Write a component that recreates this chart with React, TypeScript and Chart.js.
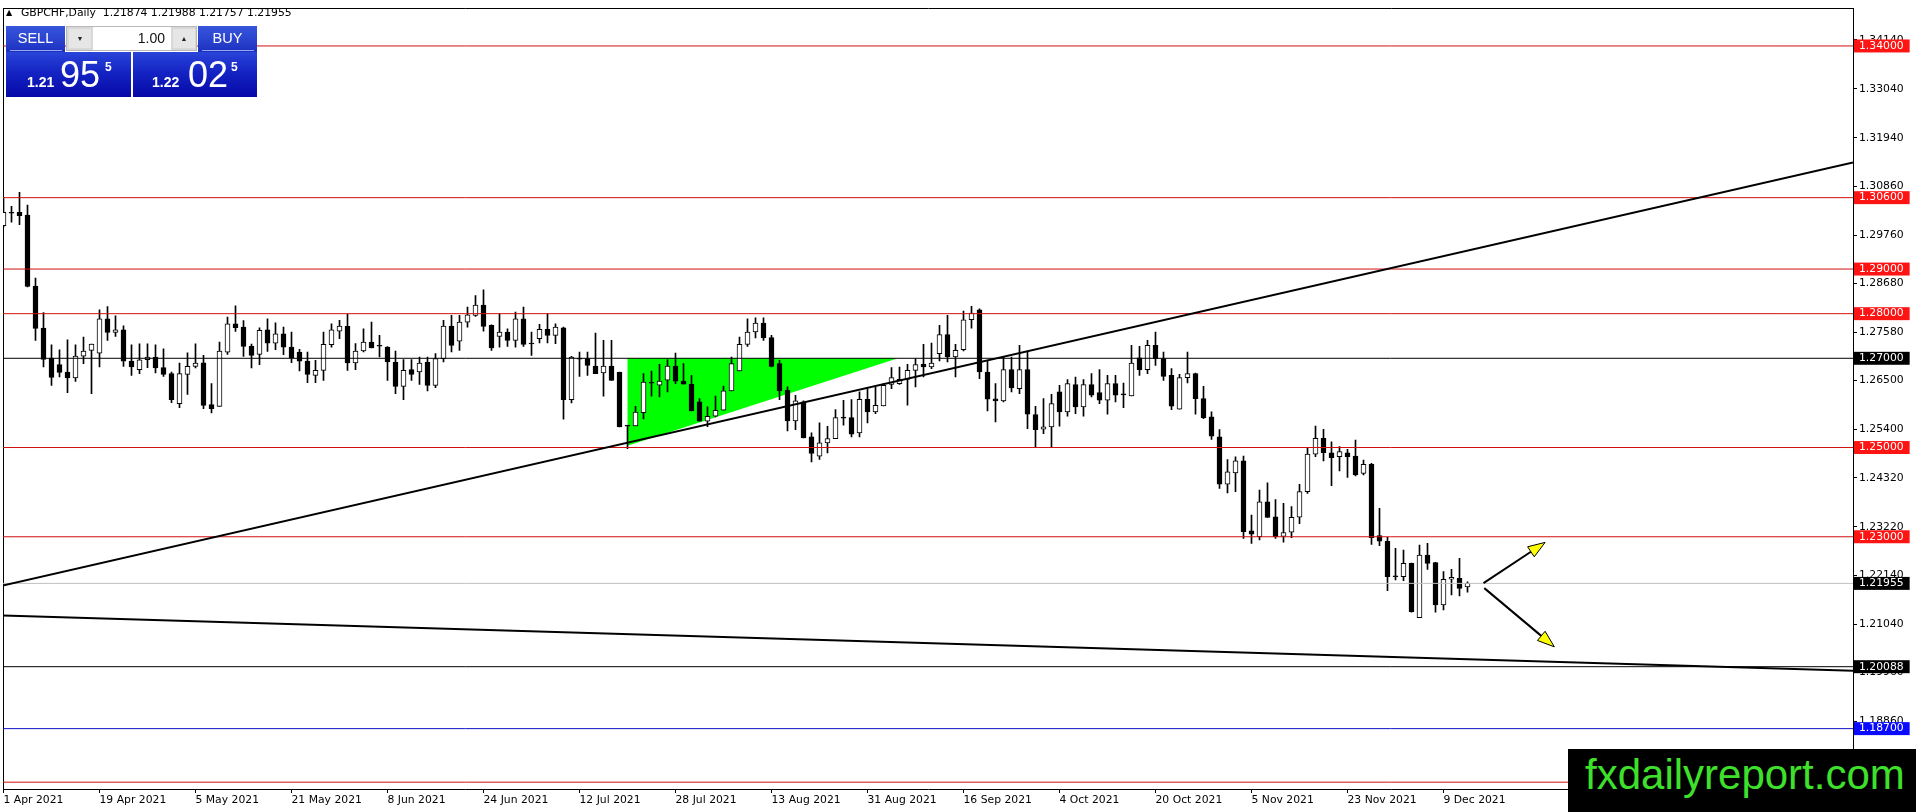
import React, { useEffect, useRef } from "react";
import { Chart, registerables } from "chart.js";

Chart.register(...registerables);

// ---------------- data ----------------
const openP = [
  1.29974, 1.30257, 1.30272, 1.30212, 1.28617, 1.27676, 1.27006, 1.26857, 1.26693, 1.26558,
  1.2705, 1.27177, 1.27117, 1.27885, 1.27579, 1.27639, 1.26938, 1.26744, 1.26968, 1.27028,
  1.2679, 1.26655, 1.25984, 1.2664, 1.26819, 1.26901, 1.25961, 1.25924, 1.2714, 1.27774,
  1.27699, 1.27274, 1.27088, 1.27639, 1.27341, 1.2755, 1.27251, 1.2714, 1.26938, 1.26618,
  1.2673, 1.27304, 1.27608, 1.27715, 1.26894, 1.27163, 1.27364, 1.27275, 1.27252, 1.26916,
  1.26372, 1.26745, 1.26693, 1.26916, 1.26394, 1.26991, 1.27722, 1.27386, 1.27811, 1.2796,
  1.28191, 1.27737, 1.27491, 1.27588, 1.27402, 1.27886, 1.27327, 1.27439, 1.27647, 1.27513,
  1.27685, 1.26074, 1.26991, 1.26991, 1.26827, 1.2667, 1.26827, 1.26685, 1.25484, 1.25484,
  1.25782, 1.26447, 1.26395, 1.26507, 1.26827, 1.26492, 1.26418, 1.26022, 1.2559, 1.25701,
  1.25835, 1.26268, 1.26716, 1.27313, 1.27589, 1.2779, 1.27462, 1.2688, 1.26283, 1.25597,
  1.26022, 1.25239, 1.24806, 1.25105, 1.25201, 1.25664, 1.25671, 1.25328, 1.26081, 1.25798,
  1.25932, 1.26417, 1.26432, 1.26529, 1.2673, 1.26865, 1.26805, 1.27103, 1.2753, 1.27029,
  1.27193, 1.27864, 1.28087, 1.26693, 1.26089, 1.26044, 1.26745, 1.2632, 1.26745, 1.25738,
  1.2541, 1.25462, 1.26246, 1.25798, 1.2641, 1.2591, 1.2641, 1.26231, 1.26059, 1.26432,
  1.26186, 1.26156, 1.27013, 1.26745, 1.2729, 1.26991, 1.26618, 1.25858, 1.26566, 1.26655,
  1.26097, 1.25686, 1.25239, 1.2418, 1.24433, 1.24702, 1.23135, 1.23001, 1.23784, 1.23449,
  1.2301, 1.23101, 1.23437, 1.24011, 1.24854, 1.25205, 1.24884, 1.24795, 1.24884, 1.2481,
  1.24422, 1.24623, 1.23027, 1.229, 1.22106, 1.22106, 1.22404, 1.21189, 1.22591, 1.22419,
  1.21473, 1.22047, 1.22069, 1.21874,
];
const highP = [
  1.30608, 1.30406, 1.3072, 1.30436, 1.28796, 1.28023, 1.27304, 1.27191, 1.27416, 1.27304,
  1.27476, 1.27319, 1.28086, 1.28161, 1.27952, 1.27728, 1.27304, 1.27326, 1.27326, 1.27304,
  1.27214, 1.26692, 1.26894, 1.27125, 1.27326, 1.27065, 1.26431, 1.27364, 1.27923, 1.28177,
  1.27848, 1.2732, 1.27684, 1.27885, 1.27796, 1.27699, 1.27587, 1.27199, 1.2714, 1.26953,
  1.27587, 1.27774, 1.27849, 1.27983, 1.27327, 1.27662, 1.27811, 1.27513, 1.2726, 1.27163,
  1.26969, 1.26969, 1.27029, 1.27029, 1.27103, 1.27849, 1.27961, 1.27961, 1.28147, 1.28407,
  1.28534, 1.2775, 1.27998, 1.27662, 1.28035, 1.28147, 1.27588, 1.27759, 1.27998, 1.27774,
  1.277, 1.27044, 1.27141, 1.27141, 1.27565, 1.27401, 1.27401, 1.2669, 1.2549, 1.25924,
  1.26655, 1.26716, 1.26865, 1.26969, 1.27118, 1.2688, 1.26619, 1.26097, 1.2591, 1.26151,
  1.2638, 1.27029, 1.27477, 1.27887, 1.27909, 1.27909, 1.27515, 1.26954, 1.26358, 1.26171,
  1.26044, 1.25328, 1.25552, 1.25477, 1.2585, 1.26059, 1.26074, 1.26246, 1.2632, 1.26358,
  1.26432, 1.2679, 1.26805, 1.26865, 1.26991, 1.27313, 1.27343, 1.27737, 1.27961, 1.27313,
  1.2806, 1.28162, 1.2811, 1.26954, 1.26432, 1.27029, 1.27029, 1.2729, 1.27163, 1.25925,
  1.26096, 1.26193, 1.26395, 1.26521, 1.26581, 1.26521, 1.26656, 1.26745, 1.26618, 1.26618,
  1.26447, 1.2729, 1.27268, 1.27402, 1.27589, 1.27141, 1.26767, 1.2664, 1.27141, 1.2667,
  1.26372, 1.25798, 1.25403, 1.24732, 1.24791, 1.24806, 1.23486, 1.24045, 1.24209, 1.23836,
  1.2375, 1.23676, 1.24175, 1.24996, 1.25481, 1.25406, 1.2513, 1.25019, 1.24959, 1.25168,
  1.2472, 1.24646, 1.23639, 1.22986, 1.2274, 1.22703, 1.2241, 1.22815, 1.22852, 1.22425,
  1.22218, 1.2227, 1.22516, 1.21988,
];
const lowP = [
  1.29936, 1.30048, 1.29996, 1.286, 1.274, 1.26805, 1.26394, 1.26581, 1.2623, 1.26484,
  1.26879, 1.26207, 1.26805, 1.274, 1.2749, 1.26819, 1.26618, 1.26655, 1.2679, 1.2667,
  1.26596, 1.26007, 1.25895, 1.26193, 1.26782, 1.25871, 1.25775, 1.25924, 1.27088, 1.27602,
  1.27042, 1.26782, 1.26856, 1.27155, 1.27192, 1.2708, 1.26901, 1.26715, 1.26454, 1.26454,
  1.26506, 1.27252, 1.27438, 1.2673, 1.26745, 1.27141, 1.2723, 1.27029, 1.26506, 1.26208,
  1.26074, 1.26506, 1.26417, 1.26268, 1.26342, 1.26916, 1.27141, 1.27178, 1.277, 1.27939,
  1.2761, 1.27178, 1.27252, 1.27267, 1.27252, 1.27267, 1.27066, 1.27342, 1.27342, 1.27327,
  1.25634, 1.26, 1.26596, 1.26618, 1.26655, 1.26149, 1.26506, 1.25462, 1.24977, 1.25484,
  1.2564, 1.26151, 1.26133, 1.26246, 1.26432, 1.26418, 1.2582, 1.2559, 1.25465, 1.25686,
  1.25835, 1.26268, 1.26716, 1.27268, 1.27455, 1.27403, 1.26805, 1.26074, 1.25373, 1.25403,
  1.25216, 1.24679, 1.24731, 1.24881, 1.25201, 1.255, 1.25239, 1.25239, 1.25552, 1.25761,
  1.25932, 1.2632, 1.26417, 1.25947, 1.26358, 1.26581, 1.26768, 1.26939, 1.26917, 1.26581,
  1.27163, 1.27677, 1.26544, 1.2582, 1.25574, 1.26022, 1.26246, 1.26208, 1.25425, 1.25,
  1.25313, 1.25, 1.25477, 1.25701, 1.25761, 1.25701, 1.26134, 1.25984, 1.25746, 1.26022,
  1.25895, 1.26156, 1.26618, 1.26656, 1.26842, 1.26506, 1.2585, 1.25858, 1.26447, 1.25746,
  1.25649, 1.25179, 1.24083, 1.23985, 1.24008, 1.22964, 1.22852, 1.22927, 1.23434, 1.22964,
  1.2288, 1.22982, 1.23296, 1.23974, 1.24795, 1.24698, 1.24146, 1.24474, 1.24332, 1.24362,
  1.24385, 1.2283, 1.22803, 1.21793, 1.22031, 1.22016, 1.21308, 1.21189, 1.2227, 1.21308,
  1.2136, 1.21696, 1.21674, 1.21757,
];
const closeP = [
  1.30272, 1.3025, 1.30197, 1.2861, 1.27669, 1.26976, 1.26573, 1.26685, 1.26558, 1.2705,
  1.27162, 1.27319, 1.27885, 1.27579, 1.27639, 1.26938, 1.26805, 1.26968, 1.27028, 1.26782,
  1.2664, 1.26074, 1.26655, 1.26819, 1.26894, 1.25946, 1.25871, 1.27162, 1.27774, 1.27684,
  1.27266, 1.27065, 1.27625, 1.27341, 1.2755, 1.27251, 1.27013, 1.26938, 1.2664, 1.2673,
  1.27311, 1.2764, 1.27722, 1.26894, 1.27163, 1.27364, 1.2723, 1.2727, 1.26916, 1.26372,
  1.2673, 1.2664, 1.26894, 1.26394, 1.26991, 1.27722, 1.2729, 1.27811, 1.27975, 1.28191,
  1.27714, 1.2723, 1.27588, 1.27402, 1.27886, 1.27312, 1.2732, 1.27647, 1.27513, 1.277,
  1.26074, 1.27029, 1.2698, 1.26842, 1.26655, 1.26827, 1.26506, 1.25462, 1.2548, 1.25797,
  1.26469, 1.2644, 1.26492, 1.26827, 1.26485, 1.26418, 1.2582, 1.2559, 1.25701, 1.25835,
  1.26268, 1.2688, 1.27313, 1.27589, 1.2779, 1.27455, 1.2682, 1.26268, 1.25597, 1.26044,
  1.25216, 1.24866, 1.25105, 1.25201, 1.25671, 1.2566, 1.25298, 1.26081, 1.25798, 1.25947,
  1.26395, 1.26566, 1.26529, 1.2673, 1.26857, 1.26805, 1.26894, 1.2753, 1.27029, 1.27178,
  1.27864, 1.28013, 1.26693, 1.26082, 1.26044, 1.26745, 1.26335, 1.26745, 1.25746, 1.25403,
  1.25462, 1.25984, 1.25798, 1.26432, 1.2591, 1.2641, 1.26171, 1.26059, 1.26432, 1.26171,
  1.2618, 1.26894, 1.26745, 1.2729, 1.26991, 1.26596, 1.25925, 1.26566, 1.26655, 1.26097,
  1.25671, 1.25254, 1.2418, 1.24456, 1.24702, 1.23113, 1.2306, 1.23784, 1.23434, 1.23001,
  1.23095, 1.23437, 1.24011, 1.24854, 1.25205, 1.24884, 1.24772, 1.24907, 1.24795, 1.24385,
  1.24623, 1.22979, 1.229, 1.22106, 1.221, 1.22404, 1.21323, 1.22591, 1.22404, 1.21473,
  1.22047, 1.22091, 1.21845, 1.21955,
];

// date axis (bar index -> label)
const dateTickIdx = [0, 12, 24, 36, 48, 60, 72, 84, 96, 108, 120, 132, 144, 156, 168, 180];
const dateTickLabels = [
  "1 Apr 2021", "19 Apr 2021", "5 May 2021", "21 May 2021", "8 Jun 2021", "24 Jun 2021",
  "12 Jul 2021", "28 Jul 2021", "13 Aug 2021", "31 Aug 2021", "16 Sep 2021", "4 Oct 2021",
  "20 Oct 2021", "5 Nov 2021", "23 Nov 2021", "9 Dec 2021",
];

// price axis
const priceTicks = [
  1.3414, 1.3304, 1.3194, 1.3086, 1.2976, 1.2868, 1.2758, 1.265, 1.254, 1.2432, 1.2322,
  1.2214, 1.2104, 1.1996, 1.1886,
];
const levelPrices = [1.34, 1.306, 1.29, 1.28, 1.27, 1.25, 1.23, 1.21955, 1.20088, 1.187, 1.175];
const levelKinds = ["red", "red", "red", "red", "black", "red", "red", "bid", "black", "blue", "red"];

// drawn objects (bar index, price)
const risingLineX = [-0.44, 231.19];
const risingLineY = [1.21893, 1.31386];
const fallingLineX = [-0.44, 231.19];
const fallingLineY = [1.21236, 1.19999];
const triangleX = [78, 78, 111.8, 78];
const triangleY = [1.2504, 1.27, 1.27, 1.2504];
const arrowFromX = [185.0, 185.1];
const arrowFromY = [1.2196, 1.21849];
const arrowToX = [192.7, 193.85];
const arrowToY = [1.22874, 1.20534];

const headerValues = ["1.21874", "1.21988", "1.21757", "1.21955"];

// ---------------- styles ----------------
const X_MIN = -0.0625;
const X_MAX = 231.1875;
const Y_MIN = 1.17347;
const Y_MAX = 1.3484;

const lineColor: Record<string, string> = {
  red: "#d01010",
  black: "#000000",
  bid: "#c0c0c0",
  blue: "#1010c8",
};
const boxColor: Record<string, string> = {
  red: "#ff1414",
  black: "#000000",
  bid: "#000000",
  blue: "#0a0aff",
};

const axisFont = { family: "'DejaVu Sans'", size: 10.8 };

const arrowPlugin = {
  id: "arrows",
  afterDatasetsDraw(chart: any) {
    const { ctx, scales } = chart;
    const xs = scales.x;
    const ys = scales.y;
    for (let k = 0; k < arrowFromX.length; k++) {
      const x0 = xs.getPixelForValue(arrowFromX[k]);
      const y0 = ys.getPixelForValue(arrowFromY[k]);
      const x1 = xs.getPixelForValue(arrowToX[k]);
      const y1 = ys.getPixelForValue(arrowToY[k]);
      const len = Math.hypot(x1 - x0, y1 - y0);
      const ux = (x1 - x0) / len;
      const uy = (y1 - y0) / len;
      const headLen = 17;
      const headW = 6;
      const bx = x1 - ux * headLen;
      const by = y1 - uy * headLen;
      ctx.save();
      ctx.strokeStyle = "#000";
      ctx.lineWidth = 2;
      ctx.beginPath();
      ctx.moveTo(x0, y0);
      ctx.lineTo(bx, by);
      ctx.stroke();
      ctx.beginPath();
      ctx.moveTo(x1, y1);
      ctx.lineTo(bx - uy * headW, by + ux * headW);
      ctx.lineTo(bx + uy * headW, by - ux * headW);
      ctx.closePath();
      ctx.fillStyle = "#ffff00";
      ctx.fill();
      ctx.lineWidth = 1;
      ctx.stroke();
      ctx.restore();
    }
  },
};

function ChartCanvas() {
  const ref = useRef<HTMLCanvasElement>(null);
  useEffect(() => {
    if (!ref.current) return;
    const idx = openP.map((_, i) => i);
    const wickData = idx.map((i) => ({ x: i, y: [lowP[i], highP[i]] }));
    const bodyData = idx.map((i) => ({ x: i, y: [openP[i], closeP[i]] }));
    const bodyFill = idx.map((i) =>
      closeP[i] - openP[i] > 0.00025 ? "#ffffff" : "#000000"
    );

    const levelSets = levelPrices.map((p, k) => ({
      type: "line",
      data: [
        { x: X_MIN, y: p },
        { x: X_MAX, y: p },
      ],
      borderColor: lineColor[levelKinds[k]],
      borderWidth: 1,
      pointRadius: 0,
      fill: false,
      xAxisID: "x",
      yAxisID: "y",
      order: 3,
    }));

    const chart = new Chart(ref.current, {
      type: "bar",
      data: {
        datasets: [
          {
            type: "line",
            data: triangleX.map((x, i) => ({ x, y: triangleY[i] })),
            borderWidth: 0,
            borderColor: "rgba(0,0,0,0)",
            backgroundColor: "#00ff00",
            fill: "shape",
            pointRadius: 0,
            tension: 0,
            xAxisID: "x",
            yAxisID: "y",
            order: 10,
          },
          {
            type: "bar",
            data: wickData,
            backgroundColor: "#000000",
            borderWidth: 0,
            barThickness: 1,
            grouped: false,
            xAxisID: "x",
            yAxisID: "y",
            order: 6,
          },
          {
            type: "bar",
            data: bodyData,
            backgroundColor: bodyFill,
            borderColor: "#000000",
            borderWidth: 1,
            borderSkipped: false,
            barThickness: 5,
            minBarLength: 1,
            grouped: false,
            xAxisID: "x",
            yAxisID: "y",
            order: 5,
          },
          ...levelSets,
          {
            type: "line",
            data: risingLineX.map((x, i) => ({ x, y: risingLineY[i] })),
            borderColor: "#000000",
            borderWidth: 2,
            pointRadius: 0,
            fill: false,
            xAxisID: "x",
            yAxisID: "y",
            order: 2,
          },
          {
            type: "line",
            data: fallingLineX.map((x, i) => ({ x, y: fallingLineY[i] })),
            borderColor: "#000000",
            borderWidth: 2,
            pointRadius: 0,
            fill: false,
            xAxisID: "x",
            yAxisID: "y",
            order: 2,
          },
        ] as any,
      },
      options: {
        responsive: false,
        animation: false,
        events: [],
        layout: { padding: 0 },
        plugins: { legend: { display: false }, tooltip: { enabled: false } },
        scales: {
          x: {
            type: "linear",
            position: "bottom",
            min: X_MIN,
            max: X_MAX,
            offset: false,
            afterBuildTicks: (s: any) => {
              s.ticks = dateTickIdx.map((v) => ({ value: v }));
            },
            afterFit: (s: any) => {
              s.height = 23;
            },
            ticks: {
              autoSkip: false,
              maxRotation: 0,
              minRotation: 0,
              align: "start",
              padding: 1,
              color: "#000000",
              font: axisFont,
              callback: (_v: any, i: number) => dateTickLabels[i],
            },
            grid: {
              display: true,
              offset: false,
              drawOnChartArea: false,
              drawTicks: true,
              tickLength: 4,
              color: "#000000",
            },
            border: { display: true, color: "#000000", width: 1 },
          },
          xt: {
            type: "linear",
            position: "top",
            afterFit: (s: any) => {
              s.height = 3;
            },
            ticks: { display: false },
            grid: { display: false, drawTicks: false },
            border: { display: true, color: "#000000", width: 1 },
          },
          y: {
            type: "linear",
            position: "right",
            min: Y_MIN,
            max: Y_MAX,
            afterBuildTicks: (s: any) => {
              s.ticks = [...priceTicks, ...levelPrices].map((v) => ({ value: v }));
            },
            afterFit: (s: any) => {
              s.width = 63;
            },
            ticks: {
              autoSkip: false,
              padding: 2,
              font: axisFont,
              color: (c: any) => (c.index >= priceTicks.length ? "#ffffff" : "#000000"),
              showLabelBackdrop: (c: any) => c.index >= priceTicks.length,
              backdropColor: (c: any) =>
                c.index >= priceTicks.length
                  ? boxColor[levelKinds[c.index - priceTicks.length]]
                  : "rgba(0,0,0,0)",
              backdropPadding: { top: 0, bottom: 0, left: 5, right: 6 },
              callback: (v: any) => Number(v).toFixed(5),
            },
            grid: {
              drawOnChartArea: false,
              drawTicks: true,
              tickLength: 4,
              color: "#000000",
              tickColor: (c: any) =>
                c.index >= priceTicks.length ? "rgba(0,0,0,0)" : "#000000",
            },
            border: { display: true, color: "#000000", width: 1 },
          },
          yl: {
            type: "linear",
            position: "left",
            afterFit: (s: any) => {
              s.width = 3;
            },
            ticks: { display: false },
            grid: { display: false, drawTicks: false },
            border: { display: true, color: "#000000", width: 1 },
          },
        },
      } as any,
      plugins: [arrowPlugin],
    });
    return () => chart.destroy();
  }, []);
  return (
    <canvas
      ref={ref}
      width={1916}
      height={812}
      style={{ position: "absolute", left: 0, top: 0, width: 1916, height: 812 }}
    />
  );
}

const panelFont = "'Liberation Sans', Arial, sans-serif";
const topGrad = "linear-gradient(to bottom, #3656dc 0%, #2840cc 60%, #1c30c0 100%)";
const lowGrad = "linear-gradient(to bottom, #2a44d8 0%, #1424c4 45%, #0608a6 100%)";

function PriceBox(props: { left: number; width: number; small: string; big: string; sup: string; bigLeft: number; smallLeft: number; supLeft: number }) {
  return (
    <div
      style={{
        position: "absolute",
        left: props.left,
        top: 52,
        width: props.width,
        height: 45,
        background: lowGrad,
        color: "#fff",
        fontFamily: panelFont,
      }}
    >
      <span style={{ position: "absolute", left: props.smallLeft, top: 23.4, fontSize: 14, lineHeight: "14px", fontWeight: 700 }}>
        {props.small}
      </span>
      <span style={{ position: "absolute", left: props.bigLeft, top: 4.8, fontSize: 36, lineHeight: "36px" }}>
        {props.big}
      </span>
      <span style={{ position: "absolute", left: props.supLeft, top: 8.5, fontSize: 12, lineHeight: "12px", fontWeight: 700 }}>
        {props.sup}
      </span>
    </div>
  );
}

function TopButton(props: { left: number; label: string }) {
  return (
    <div
      style={{
        position: "absolute",
        left: props.left,
        top: 26,
        width: 59,
        height: 26,
        background: topGrad,
        color: "#fff",
        fontFamily: panelFont,
        fontSize: 14.5,
        lineHeight: "25px",
        textAlign: "center",
      }}
    >
      {props.label}
      <div style={{ position: "absolute", left: 4, right: 3, bottom: 1, height: 1, background: "rgba(190,205,255,0.75)" }} />
    </div>
  );
}

function TradePanel() {
  return (
    <>
      <TopButton left={6} label="SELL" />
      <div
        style={{
          position: "absolute",
          left: 66,
          top: 26,
          width: 131,
          height: 25,
          boxSizing: "border-box",
          background: "#d8d8d8",
          border: "1px solid #b8b8b8",
          fontFamily: panelFont,
        }}
      >
        <div style={{ position: "absolute", left: 2, top: 2, width: 22, height: 19, background: "#e6e6e6", fontSize: 7, lineHeight: "19px", textAlign: "center", color: "#222" }}>
          ▼
        </div>
        <div style={{ position: "absolute", left: 26, top: 0, width: 78, height: 23, background: "#ffffff", fontSize: 14, lineHeight: "23px", textAlign: "right", paddingRight: 6, boxSizing: "border-box", color: "#111" }}>
          1.00
        </div>
        <div style={{ position: "absolute", left: 106, top: 2, width: 22, height: 19, background: "#e6e6e6", fontSize: 7, lineHeight: "19px", textAlign: "center", color: "#222" }}>
          ▲
        </div>
      </div>
      <TopButton left={198} label="BUY" />
      <PriceBox left={6} width={125} small="1.21" big="95" sup="5" smallLeft={21} bigLeft={54} supLeft={99} />
      <PriceBox left={133} width={124} small="1.22" big="02" sup="5" smallLeft={19} bigLeft={55} supLeft={98} />
    </>
  );
}

export default function App() {
  return (
    <div
      style={{
        position: "fixed",
        left: 0,
        top: 0,
        width: 1916,
        height: 812,
        background: "#ffffff",
        overflow: "hidden",
      }}
    >
      <ChartCanvas />
      <div
        style={{
          position: "absolute",
          left: 6,
          top: 7,
          fontFamily: "'DejaVu Sans'",
          fontSize: 8,
          lineHeight: "12px",
          color: "#000",
        }}
      >
        ▲
      </div>
      <div
        style={{
          position: "absolute",
          left: 21,
          top: 6,
          fontFamily: "'DejaVu Sans'",
          fontSize: 10.8,
          lineHeight: "14px",
          color: "#000",
          whiteSpace: "pre",
        }}
      >
        {"GBPCHF,Daily  " + headerValues.join(" ")}
      </div>
      <TradePanel />
      <div
        style={{
          position: "absolute",
          left: 1568,
          top: 749,
          width: 348,
          height: 63,
          background: "#000000",
        }}
      >
        <span
          style={{
            position: "absolute",
            left: 17,
            top: 5.4,
            fontFamily: panelFont,
            fontSize: 42,
            lineHeight: "42px",
            color: "#3fe02c",
            whiteSpace: "pre",
          }}
        >
          fxdailyreport.com
        </span>
      </div>
    </div>
  );
}
